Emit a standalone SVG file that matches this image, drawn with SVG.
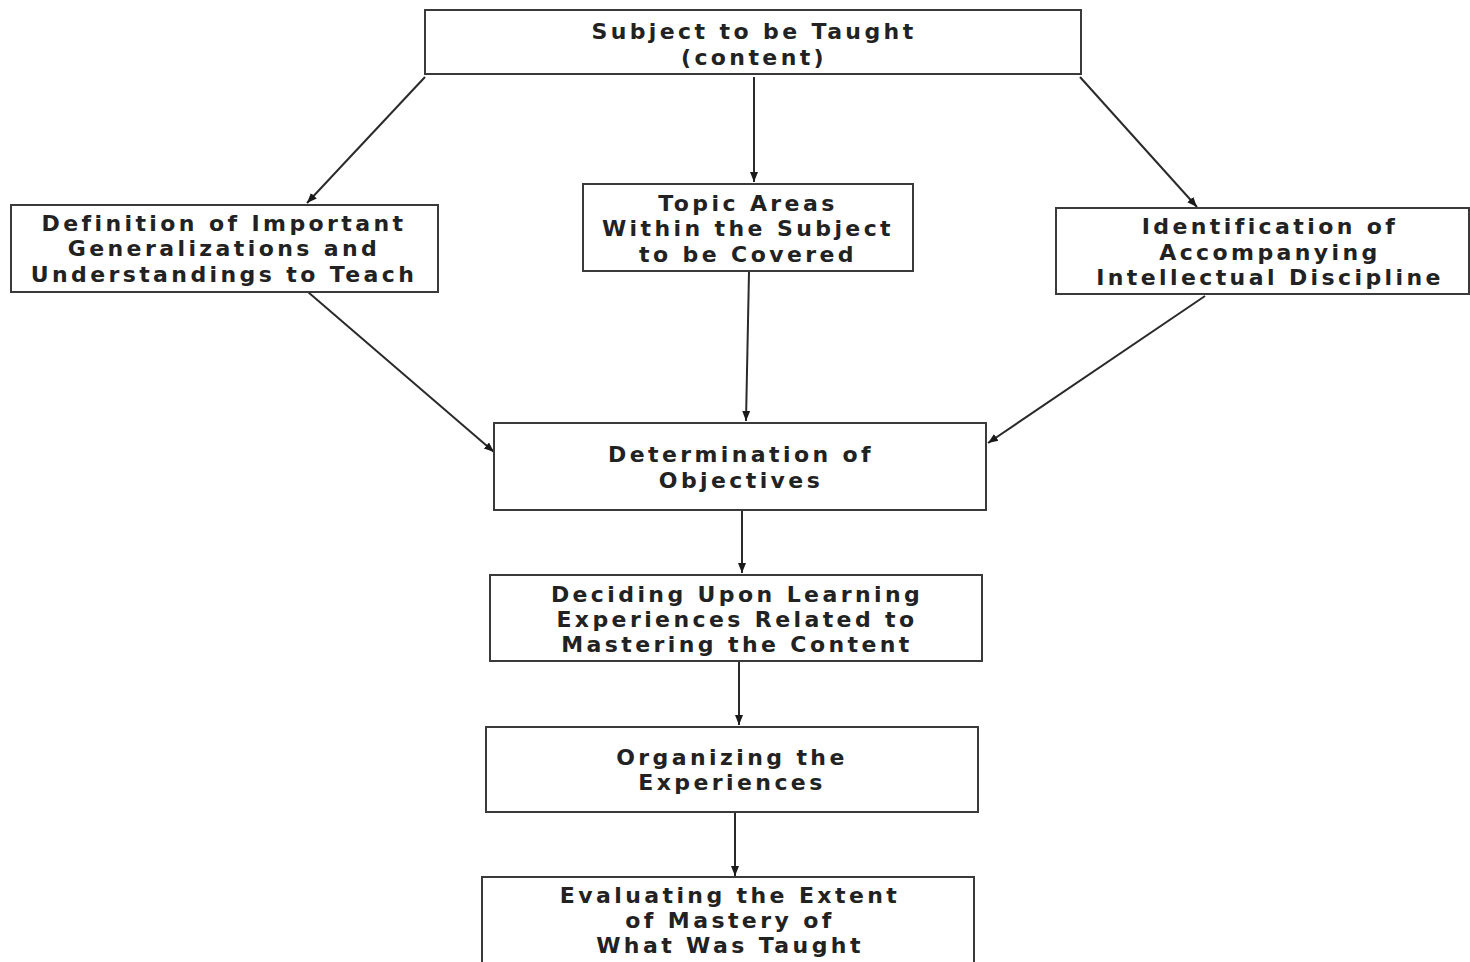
<svg xmlns="http://www.w3.org/2000/svg" width="1470" height="962" viewBox="0 0 1470 962">
<style>
.box{fill:#ffffff;stroke:#3a3a3a;stroke-width:2}
.t{font-family:"DejaVu Sans","Liberation Sans",Arial,sans-serif;font-weight:bold;font-size:22px;fill:#222;text-anchor:middle;letter-spacing:3.4px}
.c{stroke:#2a2a2a;stroke-width:2;fill:none;marker-end:url(#ah)}
</style>
<defs>
<marker id="ah" markerUnits="userSpaceOnUse" markerWidth="12" markerHeight="10" refX="10" refY="5" orient="auto">
<path d="M0,1 L10,5 L0,9 Z" fill="#1a1a1a"/>
</marker>
</defs>
<rect width="1470" height="962" fill="#ffffff"/>
<g id="connectors">
<line class="c" x1="425" y1="77" x2="307" y2="203"/>
<line class="c" x1="754" y1="77" x2="754" y2="182"/>
<line class="c" x1="1080" y1="77" x2="1197" y2="207"/>
<line class="c" x1="308" y1="292" x2="494" y2="452"/>
<line class="c" x1="749" y1="272" x2="746" y2="421"/>
<line class="c" x1="1205" y1="296" x2="988" y2="443"/>
<line class="c" x1="742" y1="511" x2="742" y2="573"/>
<line class="c" x1="739" y1="662" x2="739" y2="725"/>
<line class="c" x1="735" y1="813" x2="735" y2="876"/>
</g>
<g id="subject">
<rect class="box" x="425" y="10" width="656" height="64"/>
<text class="t" x="754" y="39">Subject to be Taught</text>
<text class="t" x="754" y="65">(content)</text>
</g>
<g id="definition">
<rect class="box" x="11" y="205" width="427" height="87"/>
<text class="t" x="224" y="231">Definition of Important</text>
<text class="t" x="224" y="256">Generalizations and</text>
<text class="t" x="224" y="282">Understandings to Teach</text>
</g>
<g id="topic">
<rect class="box" x="583" y="184" width="330" height="87"/>
<text class="t" x="748" y="211">Topic Areas</text>
<text class="t" x="748" y="236">Within the Subject</text>
<text class="t" x="748" y="262">to be Covered</text>
</g>
<g id="identification">
<rect class="box" x="1056" y="208" width="413" height="86"/>
<text class="t" x="1270" y="234">Identification of</text>
<text class="t" x="1270" y="260">Accompanying</text>
<text class="t" x="1270" y="285">Intellectual Discipline</text>
</g>
<g id="objectives">
<rect class="box" x="494" y="423" width="492" height="87"/>
<text class="t" x="741" y="462">Determination of</text>
<text class="t" x="741" y="488">Objectives</text>
</g>
<g id="deciding">
<rect class="box" x="490" y="575" width="492" height="86"/>
<text class="t" x="737" y="602">Deciding Upon Learning</text>
<text class="t" x="737" y="627">Experiences Related to</text>
<text class="t" x="737" y="652">Mastering the Content</text>
</g>
<g id="organizing">
<rect class="box" x="486" y="727" width="492" height="85"/>
<text class="t" x="732" y="765">Organizing the</text>
<text class="t" x="732" y="790">Experiences</text>
</g>
<g id="evaluating">
<rect class="box" x="482" y="877" width="492" height="92"/>
<text class="t" x="730" y="903">Evaluating the Extent</text>
<text class="t" x="730" y="928">of Mastery of</text>
<text class="t" x="730" y="953">What Was Taught</text>
</g>
</svg>
